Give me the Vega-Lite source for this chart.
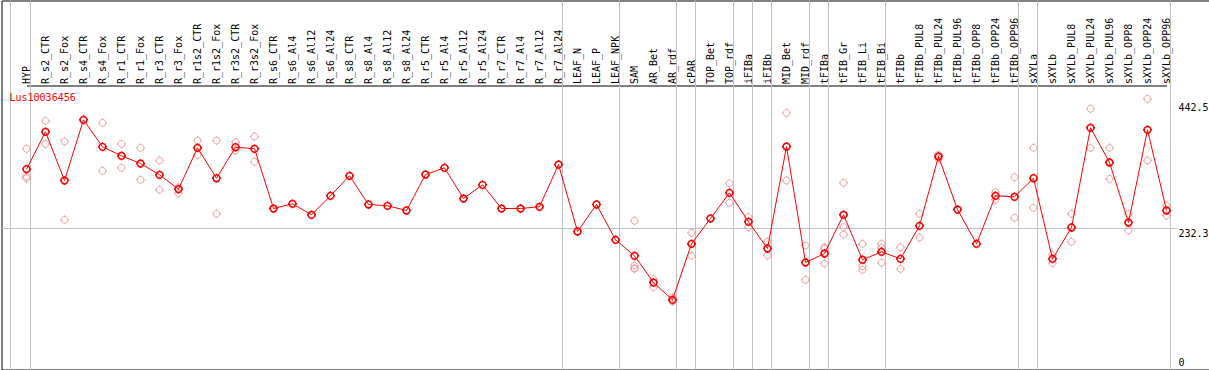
{
  "$schema": "https://vega.github.io/schema/vega-lite/v6.json",
  "width": 1208,
  "height": 369,
  "autosize": {"type": "none"},
  "padding": {"left": 1.5, "top": 0.5, "right": 0, "bottom": 0},
  "background": "white",
  "config": {
    "view": {"stroke": "black", "strokeWidth": 1},
    "font": "DejaVu Sans Mono"
  },
  "title": {
    "text": "Lus10036456",
    "anchor": "start",
    "frame": "group",
    "orient": "top",
    "offset": 0,
    "baseline": "middle",
    "dx": 8,
    "dy": 108,
    "color": "#ff0000",
    "font": "DejaVu Sans Mono",
    "fontSize": 10,
    "fontWeight": "normal"
  },
  "datasets": {
    "means": [
      {"sample": "HYP", "value": 331.4},
      {"sample": "R_s2_CTR", "value": 393.9},
      {"sample": "R_s2_Fox", "value": 312.5},
      {"sample": "R_s4_CTR", "value": 413.9},
      {"sample": "R_s4_Fox", "value": 368.8},
      {"sample": "R_r1_CTR", "value": 353.8},
      {"sample": "R_r1_Fox", "value": 340.9},
      {"sample": "R_r3_CTR", "value": 322.0},
      {"sample": "R_r3_Fox", "value": 298.0},
      {"sample": "R_r1s2_CTR", "value": 367.1},
      {"sample": "R_r1s2_Fox", "value": 316.3},
      {"sample": "R_r3s2_CTR", "value": 368.1},
      {"sample": "R_r3s2_Fox", "value": 365.5},
      {"sample": "R_s6_CTR", "value": 265.7},
      {"sample": "R_s6_Al4", "value": 273.6},
      {"sample": "R_s6_Al12", "value": 255.2},
      {"sample": "R_s6_Al24", "value": 286.9},
      {"sample": "R_s8_CTR", "value": 320.3},
      {"sample": "R_s8_Al4", "value": 272.4},
      {"sample": "R_s8_Al12", "value": 270.2},
      {"sample": "R_s8_Al24", "value": 262.4},
      {"sample": "R_r5_CTR", "value": 322.5},
      {"sample": "R_r5_Al4", "value": 333.7},
      {"sample": "R_r5_Al12", "value": 282.4},
      {"sample": "R_r5_Al24", "value": 305.3},
      {"sample": "R_r7_CTR", "value": 265.7},
      {"sample": "R_r7_Al4", "value": 265.7},
      {"sample": "R_r7_Al12", "value": 268.6},
      {"sample": "R_r7_Al24", "value": 339.2},
      {"sample": "LEAF_N", "value": 227.3},
      {"sample": "LEAF_P", "value": 272.4},
      {"sample": "LEAF_NPK", "value": 213.4},
      {"sample": "SAM", "value": 186.7},
      {"sample": "AR_Bet", "value": 142.0},
      {"sample": "AR_rdf", "value": 113.1},
      {"sample": "cPAR", "value": 206.7},
      {"sample": "TOP_Bet", "value": 249.0},
      {"sample": "TOP_rdf", "value": 291.9},
      {"sample": "iFIBa", "value": 243.5},
      {"sample": "iFIBb", "value": 198.9},
      {"sample": "MID_Bet", "value": 369.3},
      {"sample": "MID_rdf", "value": 175.5},
      {"sample": "tFIBa", "value": 190.5},
      {"sample": "tFIB_Gr", "value": 255.2},
      {"sample": "tFIB_Li", "value": 180.0},
      {"sample": "tFIB_Bi", "value": 193.3},
      {"sample": "tFIBb", "value": 181.6},
      {"sample": "tFIBb_PUL8", "value": 236.8},
      {"sample": "tFIBb_PUL24", "value": 352.6},
      {"sample": "tFIBb_PUL96", "value": 264.0},
      {"sample": "tFIBb_OPP8", "value": 206.7},
      {"sample": "tFIBb_OPP24", "value": 286.9},
      {"sample": "tFIBb_OPP96", "value": 285.3},
      {"sample": "sXYLa", "value": 316.3},
      {"sample": "sXYLb", "value": 181.6},
      {"sample": "sXYLb_PUL8", "value": 234.0},
      {"sample": "sXYLb_PUL24", "value": 400.6},
      {"sample": "sXYLb_PUL96", "value": 342.6},
      {"sample": "sXYLb_OPP8", "value": 242.3},
      {"sample": "sXYLb_OPP24", "value": 397.2},
      {"sample": "sXYLb_OPP96", "value": 262.4}
    ],
    "reps": [
      {"sample": "HYP", "value": 365.5},
      {"sample": "HYP", "value": 319.2},
      {"sample": "HYP", "value": 316.3},
      {"sample": "R_s2_CTR", "value": 412.3},
      {"sample": "R_s2_CTR", "value": 373.8},
      {"sample": "R_s2_Fox", "value": 377.7},
      {"sample": "R_s2_Fox", "value": 246.8},
      {"sample": "R_s4_Fox", "value": 408.9},
      {"sample": "R_s4_Fox", "value": 328.7},
      {"sample": "R_r1_CTR", "value": 373.8},
      {"sample": "R_r1_CTR", "value": 333.7},
      {"sample": "R_r1_Fox", "value": 367.1},
      {"sample": "R_r1_Fox", "value": 313.7},
      {"sample": "R_r3_CTR", "value": 345.9},
      {"sample": "R_r3_CTR", "value": 297.0},
      {"sample": "R_r3_Fox", "value": 301.3},
      {"sample": "R_r3_Fox", "value": 291.3},
      {"sample": "R_r1s2_CTR", "value": 379.3},
      {"sample": "R_r1s2_CTR", "value": 355.4},
      {"sample": "R_r1s2_Fox", "value": 379.3},
      {"sample": "R_r1s2_Fox", "value": 256.9},
      {"sample": "R_r3s2_CTR", "value": 376.5},
      {"sample": "R_r3s2_CTR", "value": 362.6},
      {"sample": "R_r3s2_Fox", "value": 386.0},
      {"sample": "R_r3s2_Fox", "value": 343.7},
      {"sample": "SAM", "value": 245.1},
      {"sample": "SAM", "value": 170.5},
      {"sample": "SAM", "value": 166.0},
      {"sample": "SAM", "value": 164.9},
      {"sample": "AR_Bet", "value": 147.6},
      {"sample": "AR_Bet", "value": 134.2},
      {"sample": "AR_rdf", "value": 117.0},
      {"sample": "AR_rdf", "value": 110.3},
      {"sample": "cPAR", "value": 225.1},
      {"sample": "cPAR", "value": 186.7},
      {"sample": "TOP_rdf", "value": 307.5},
      {"sample": "TOP_rdf", "value": 275.2},
      {"sample": "iFIBa", "value": 251.2},
      {"sample": "iFIBa", "value": 234.5},
      {"sample": "iFIBb", "value": 210.6},
      {"sample": "iFIBb", "value": 187.2},
      {"sample": "MID_Bet", "value": 425.6},
      {"sample": "MID_Bet", "value": 312.5},
      {"sample": "MID_rdf", "value": 203.9},
      {"sample": "MID_rdf", "value": 146.6},
      {"sample": "tFIBa", "value": 201.0},
      {"sample": "tFIBa", "value": 198.4},
      {"sample": "tFIBa", "value": 173.8},
      {"sample": "tFIB_Gr", "value": 308.7},
      {"sample": "tFIB_Gr", "value": 234.5},
      {"sample": "tFIB_Gr", "value": 222.3},
      {"sample": "tFIB_Li", "value": 206.7},
      {"sample": "tFIB_Li", "value": 169.3},
      {"sample": "tFIB_Li", "value": 163.3},
      {"sample": "tFIB_Bi", "value": 206.7},
      {"sample": "tFIB_Bi", "value": 200.0},
      {"sample": "tFIB_Bi", "value": 175.0},
      {"sample": "tFIBb", "value": 201.0},
      {"sample": "tFIBb", "value": 164.9},
      {"sample": "tFIBb_PUL8", "value": 256.9},
      {"sample": "tFIBb_PUL8", "value": 217.2},
      {"sample": "tFIBb_PUL24", "value": 355.4},
      {"sample": "tFIBb_PUL24", "value": 348.8},
      {"sample": "tFIBb_OPP24", "value": 292.9},
      {"sample": "tFIBb_OPP24", "value": 280.7},
      {"sample": "tFIBb_OPP96", "value": 318.0},
      {"sample": "tFIBb_OPP96", "value": 250.2},
      {"sample": "sXYLa", "value": 367.1},
      {"sample": "sXYLa", "value": 266.9},
      {"sample": "sXYLb", "value": 188.3},
      {"sample": "sXYLb", "value": 174.3},
      {"sample": "sXYLb_PUL8", "value": 256.9},
      {"sample": "sXYLb_PUL8", "value": 210.1},
      {"sample": "sXYLb_PUL24", "value": 432.3},
      {"sample": "sXYLb_PUL24", "value": 367.1},
      {"sample": "sXYLb_PUL96", "value": 367.1},
      {"sample": "sXYLb_PUL96", "value": 315.3},
      {"sample": "sXYLb_OPP8", "value": 256.9},
      {"sample": "sXYLb_OPP8", "value": 228.9},
      {"sample": "sXYLb_OPP24", "value": 449.0},
      {"sample": "sXYLb_OPP24", "value": 345.9},
      {"sample": "sXYLb_OPP96", "value": 270.7},
      {"sample": "sXYLb_OPP96", "value": 254.0}
    ],
    "groups": [
      {"sample": "HYP"},
      {"sample": "R_r7_Al24"},
      {"sample": "LEAF_NPK"},
      {"sample": "AR_rdf"},
      {"sample": "cPAR"},
      {"sample": "TOP_rdf"},
      {"sample": "iFIBa"},
      {"sample": "iFIBb"},
      {"sample": "MID_rdf"},
      {"sample": "tFIBa"},
      {"sample": "tFIB_Bi"},
      {"sample": "tFIBb_OPP96"},
      {"sample": "sXYLa"},
      {"sample": "sXYLb_OPP96"}
    ],
    "firstGroup": [{"sample": "HYP"}],
    "midline": [{"sample": "HYP", "to": "sXYLb_OPP96", "value": 232.3}]
  },
  "encoding": {
    "x": {
      "field": "sample",
      "type": "ordinal",
      "title": null,
      "scale": {
        "type": "point",
        "domain": ["HYP","R_s2_CTR","R_s2_Fox","R_s4_CTR","R_s4_Fox","R_r1_CTR","R_r1_Fox","R_r3_CTR","R_r3_Fox","R_r1s2_CTR","R_r1s2_Fox","R_r3s2_CTR","R_r3s2_Fox","R_s6_CTR","R_s6_Al4","R_s6_Al12","R_s6_Al24","R_s8_CTR","R_s8_Al4","R_s8_Al12","R_s8_Al24","R_r5_CTR","R_r5_Al4","R_r5_Al12","R_r5_Al24","R_r7_CTR","R_r7_Al4","R_r7_Al12","R_r7_Al24","LEAF_N","LEAF_P","LEAF_NPK","SAM","AR_Bet","AR_rdf","cPAR","TOP_Bet","TOP_rdf","iFIBa","iFIBb","MID_Bet","MID_rdf","tFIBa","tFIB_Gr","tFIB_Li","tFIB_Bi","tFIBb","tFIBb_PUL8","tFIBb_PUL24","tFIBb_PUL96","tFIBb_OPP8","tFIBb_OPP24","tFIBb_OPP96","sXYLa","sXYLb","sXYLb_PUL8","sXYLb_PUL24","sXYLb_PUL96","sXYLb_OPP8","sXYLb_OPP24","sXYLb_OPP96"],
        "range": [25, 1165],
        "padding": 0
      },
      "axis": {
        "orient": "top",
        "offset": -85,
        "title": null,
        "ticks": false,
        "grid": false,
        "domainColor": "black",
        "domainWidth": 1,
        "labelAngle": -90,
        "labelAlign": "left",
        "labelBaseline": "middle",
        "labelPadding": 2,
        "labelFont": "DejaVu Sans Mono",
        "labelFontSize": 10,
        "labelColor": "black",
        "labelOverlap": false,
        "labelLimit": 300
      }
    }
  },
  "layer": [
    {
      "data": {"name": "groups"},
      "mark": {"type": "rule", "color": "#c0c0c0", "strokeWidth": 1, "xOffset": 4}
    },
    {
      "data": {"name": "firstGroup"},
      "mark": {"type": "rule", "color": "#c0c0c0", "strokeWidth": 1, "xOffset": -16}
    },
    {
      "data": {"name": "midline"},
      "mark": {"type": "rule", "color": "#c0c0c0", "strokeWidth": 1, "xOffset": -25, "x2Offset": 10},
      "encoding": {
        "x2": {"field": "to"},
        "y": {
          "field": "value",
          "type": "quantitative",
          "title": null,
          "scale": {"domain": [-3.34, 613.3], "zero": false, "nice": false},
          "axis": {
            "orient": "right",
            "offset": -31.5,
            "title": null,
            "values": [0, 232.3, 442.5],
            "ticks": false,
            "domain": false,
            "grid": false,
            "labelPadding": 0,
            "labelAlign": "left",
            "labelBaseline": {"condition": {"test": "datum.value == 0", "value": "bottom"}, "value": "top"},
            "labelExpr": "datum.value == 0 ? '0' : format(datum.value, '.1f')",
            "labelFont": "DejaVu Sans Mono",
            "labelFontSize": 10,
            "labelColor": "black"
          }
        }
      }
    },
    {
      "data": {"name": "reps"},
      "mark": {
        "type": "point",
        "shape": "M0.75,0A0.75,0.75,0,1,1,-0.75,0A0.75,0.75,0,1,1,0.75,0ZM0,-0.75L0,-1M0,0.75L0,1M-0.75,0L-1,0M0.75,0L1,0",
        "size": 81,
        "filled": false,
        "stroke": "#f0a0a0",
        "strokeWidth": 1,
        "opacity": 1
      },
      "encoding": {
        "y": {"field": "value", "type": "quantitative", "title": null}
      }
    },
    {
      "data": {"name": "means"},
      "mark": {"type": "line", "color": "#ff0000", "strokeWidth": 1},
      "encoding": {
        "y": {"field": "value", "type": "quantitative", "title": null},
        "order": {"value": null}
      }
    },
    {
      "data": {"name": "means"},
      "mark": {
        "type": "point",
        "shape": "M0.75,0A0.75,0.75,0,1,1,-0.75,0A0.75,0.75,0,1,1,0.75,0ZM0,-0.75L0,-1M0,0.75L0,1M-0.75,0L-1,0M0.75,0L1,0",
        "size": 81,
        "filled": false,
        "stroke": "#ff0000",
        "strokeWidth": 1.5,
        "opacity": 1
      },
      "encoding": {
        "y": {"field": "value", "type": "quantitative", "title": null}
      }
    }
  ]
}
